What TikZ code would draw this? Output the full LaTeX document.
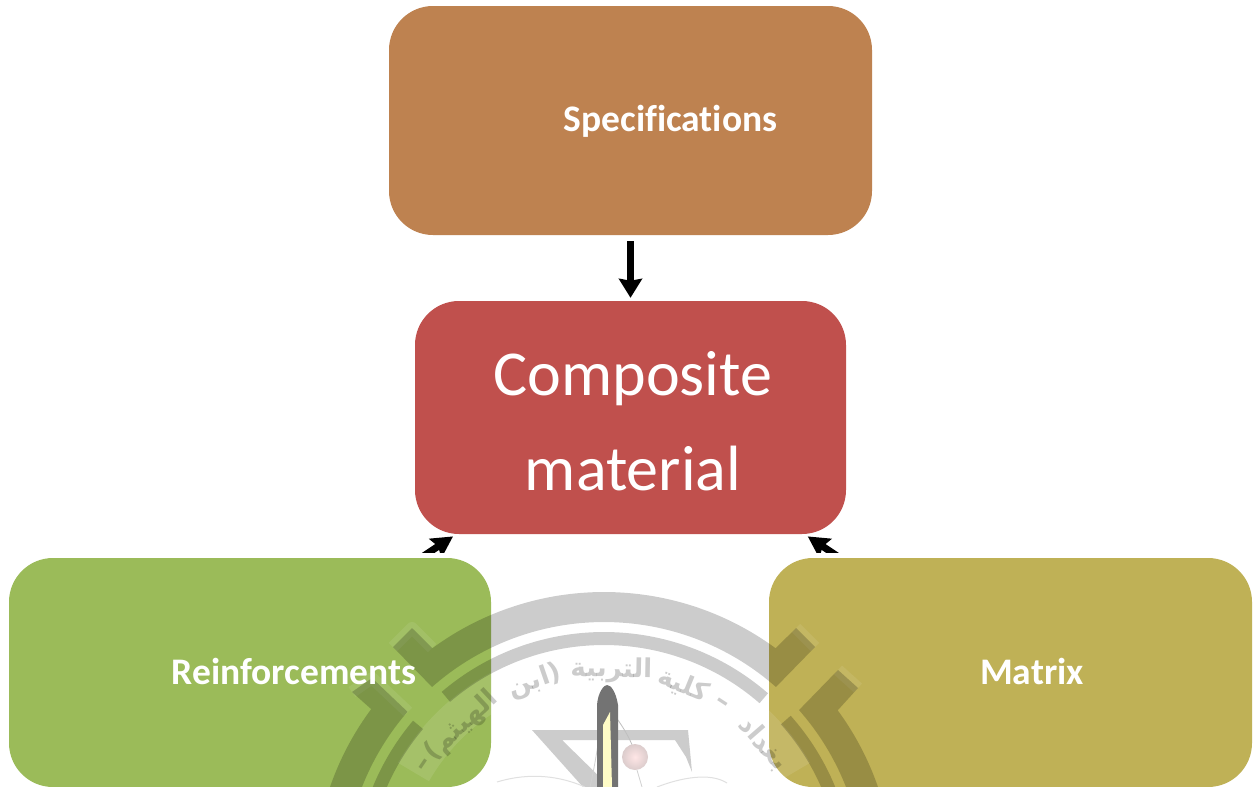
\documentclass[tikz,border=0pt]{standalone}
\usepackage{fontspec}
\setmainfont[Ligatures=NoCommon]{Carlito}
\newfontfamily\arabicfont[Script=Arabic]{DejaVu Sans}
\TeXXeTstate=1
\usetikzlibrary{arrows.meta,calc}
\definecolor{specC}{HTML}{BE8250}
\definecolor{compC}{HTML}{C0504D}
\definecolor{reinC}{HTML}{9BBB59}
\definecolor{matxC}{HTML}{BFB156}
\tikzset{
  x=1pt,y=1pt,
  boxN/.style={rectangle,rounded corners=44pt,inner sep=0pt,draw=none},
  smallLabel/.style={text=white,font=\fontsize{37.5}{44}\selectfont\bfseries,inner sep=0pt},
  bigLabel/.style={text=white,font=\fontsize{64}{95}\selectfont,align=center,inner sep=0pt},
  linkA/.style={line width=7pt,black,-{Stealth[length=19pt,width=23pt,inset=2pt]},shorten >=3pt,shorten <=6pt},
  linkB/.style={line width=7pt,black,-{Stealth[length=21pt,width=22pt,inset=3pt]},shorten >=4pt},
  wm/.style={fill=black,fill opacity=.2,draw=none},
  wmline/.style={draw=black,draw opacity=.2,line width=13pt},
  halo/.style={draw=white,draw opacity=.08,line width=12pt,line join=round},
  arab/.style={text=black,text opacity=.2,font=\arabicfont\bfseries\fontsize{26}{30}\selectfont,inner sep=0pt},
}
\begin{document}
\begin{tikzpicture}
\useasboundingbox (0,-787) rectangle (1256,0);
\clip (0,-787) rectangle (1256,0);
\fill[white] (0,-787) rectangle (1256,0);
\coordinate (C) at (604,-882);
% boxes
\node[boxN,fill=specC,minimum width=483pt,minimum height=229pt] (spec) at (630.5,-120.5) {};
\node[boxN,fill=compC,minimum width=431pt,minimum height=233pt] (comp) at (630.5,-417.5) {};
\node[boxN,fill=reinC,minimum width=482pt,minimum height=229pt] (rein) at (250,-672.5) {};
\node[boxN,fill=matxC,minimum width=483pt,minimum height=229pt] (matx) at (1010.5,-672.5) {};
% connectors
\draw[linkA] (spec) -- (comp);
\begin{scope}
\clip (380,-552.5) rectangle (880,-534);
\draw[linkB] (rein) -- (comp);
\draw[linkB] (matx) -- (comp);
\end{scope}
% watermark: halo inside boxes
\begin{scope}
\clip (9,-787) rectangle (491,-558) (769,-787) rectangle (1252,-558);
\draw[draw=white,draw opacity=.1,line width=36pt] ($(C)+(150:220)$) arc[start angle=150,end angle=30,radius=220];
\draw[halo] (393,-647) -- (412,-628) -- (432,-648);
\draw[halo] (352,-692) -- (372,-678) -- (408,-712);
\draw[halo] (815,-647) -- (796,-628);
\draw[halo] (858,-688) -- (838,-670);
\end{scope}
% watermark: bands
\path[wm] (393,-647) -- (412,-628) -- ($(C)+(126.3:290)$)
  arc[start angle=126.3,end angle=53.7,radius=290]
  -- (796,-628) -- (815,-647) -- ($(C)+(48.6:260)$)
  arc[start angle=48.6,end angle=131.4,radius=260] -- cycle;
\path[wm] (352,-692) -- (372,-678) -- ($(C)+(139.1:260)$)
  arc[start angle=139.1,end angle=175,radius=260]
  -- ($(C)+(175:290)$) arc[start angle=175,end angle=143.4,radius=290] -- cycle;
\path[wm] (858,-688) -- (838,-670) -- ($(C)+(41.4:260)$)
  arc[start angle=41.4,end angle=5,radius=260]
  -- ($(C)+(5:290)$) arc[start angle=5,end angle=36.3,radius=290] -- cycle;
\draw[wmline] ($(C)+(130.5:243.5)$) arc[start angle=130.5,end angle=49,radius=243.5];
\draw[wmline] ($(C)+(139.8:243.5)$) arc[start angle=139.8,end angle=170,radius=243.5];
\draw[wmline] ($(C)+(41.7:243.5)$) arc[start angle=41.7,end angle=10,radius=243.5];
% watermark: Arabic ring text
\node[arab,rotate=-22.2] (w1) at ($(C)+(68:212)$) {\beginR كلية\endR};
\node[arab,rotate=-1] (w2) at ($(C)+(88:212)$) {\beginR التربية\endR};
\node[arab,rotate=19] (w3) at ($(C)+(109:212)$) {\beginR (ابن\endR};
\node[arab,rotate=43] (w4) at ($(C)+(132.5:211)$) {\beginR الهيثم)\endR};
\node[arab,rotate=-33] (w5) at ($(C)+(56.5:213)$) {–};
\node[arab,rotate=-49] (w6) at ($(C)+(41:211)$) {\beginR بغداد\endR};
\node[arab,rotate=56] (w8) at ($(C)+(147:213)$) {–};
% watermark: emblem
\path[fill=black!20] (532,-730) -- (688,-730) -- (692,-772) -- (686,-757) -- (675,-740) -- (562,-740) -- (610,-787) -- (583,-787) -- cycle;
\draw[black!12,line width=1pt] (497,-782) .. controls (530,-772) and (560,-776) .. (585,-787);
\draw[black!12,line width=1pt] (657,-787) .. controls (680,-778) and (710,-772) .. (727,-783);
\draw[black!25,line width=.8pt] (612,-712) .. controls (622,-725) and (628,-735) .. (633,-747);
\draw[black!18,line width=.8pt] (590,-787) .. controls (595,-765) and (598,-745) .. (600,-730);
\draw[black!18,line width=.8pt] (637,-770) -- (642,-787);
\fill[black!55] (597,-787) -- (597,-705) .. controls (598,-692) and (604,-685) .. (607,-685)
  .. controls (611,-685) and (616,-692) .. (618,-705) -- (618,-787) -- cycle;
\fill[yellow!22!white] (603,-787) -- (603,-725) -- (610,-712) -- (612,-787) -- cycle;
\shade[inner color=red!10!white,outer color=red!30!black!20!white] (635,-757) circle[radius=13];
% labels
\node[smallLabel] (specT) at (670.5,-121) {Specifications};
\node[bigLabel] (compT) at (633,-421) {Composite\\material};
\node[smallLabel] (reinT) at (294,-671) {Reinforcements};
\node[smallLabel] (matxT) at (1032,-671) {Matrix};
\end{tikzpicture}
\end{document}
